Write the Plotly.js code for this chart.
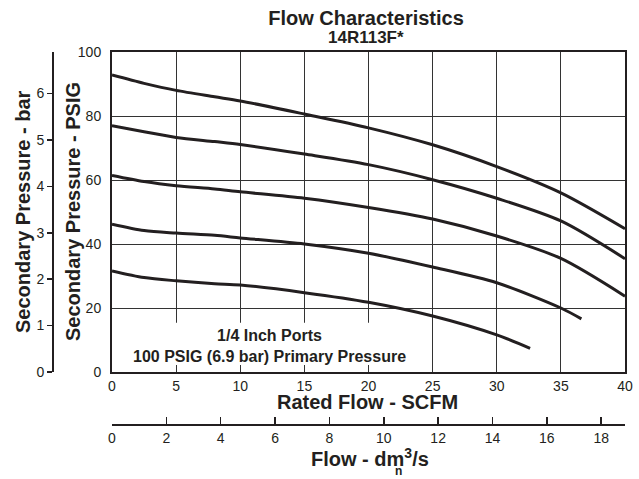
<!DOCTYPE html>
<html><head><meta charset="utf-8">
<script src="https://cdn.plot.ly/plotly-3.0.1.min.js"></script>
<style>body{margin:0;background:#fff}#chart{width:639px;height:479px}</style>
</head><body><div id="chart"></div>
<script>
// ---- data ----
const flowABC = [0, 2.5, 5, 8, 10, 15, 20, 25, 30, 35, 40];
const curveA  = [92.8, 90.2, 88.0, 86.0, 84.7, 80.6, 76.3, 71.0, 64.2, 56.0, 44.8];
const curveB  = [77.0, 75.1, 73.3, 72.0, 71.1, 68.1, 64.8, 60.1, 54.3, 47.2, 35.4];
const curveC  = [61.4, 59.5, 58.2, 57.2, 56.3, 54.3, 51.4, 47.8, 42.5, 35.5, 23.7];
const flowD   = [0, 2.5, 5, 8, 10, 15, 20, 25, 30, 35, 36.6];
const curveD  = [46.2, 44.2, 43.4, 42.7, 41.9, 40.0, 37.1, 32.8, 27.9, 20.0, 16.6];
const flowE   = [0, 2.5, 5, 8, 10, 15, 20, 25, 30, 32.6];
const curveE  = [31.6, 29.5, 28.5, 27.6, 27.2, 24.8, 21.8, 17.5, 11.6, 7.4];

const scfmTicks = [0, 5, 10, 15, 20, 25, 30, 35, 40];
const psigTicks = [0, 20, 40, 60, 80, 100];
const barTicks  = [0, 1, 2, 3, 4, 5, 6];
const dm3Ticks  = [0, 2, 4, 6, 8, 10, 12, 14, 16, 18];
const SCFM_TO_DM3S = 0.4719;
const PSI_TO_BAR = 0.0689476;

// ---- layout helpers (pixel -> paper) ----
const W = 639, H = 479, ML = 0, MR = 14, MT = 52, MB = 10;
const PW = W - ML - MR, PH = H - MT - MB;
const px = v => (v - ML) / PW;
const py = v => (H - MB - v) / PH;

const INK = '#231f20';
const GRID = '#333';
const FONT = 'Liberation Sans, Arial, Helvetica, sans-serif';
const lineStyle = {color: INK, width: 3, shape: 'spline', smoothing: 0.8};

const series = [[flowABC, curveA], [flowABC, curveB], [flowABC, curveC], [flowD, curveD], [flowE, curveE]];
const traces = series.map(([x, y]) => ({
  type: 'scatter', mode: 'lines', x: x, y: y, line: lineStyle, hoverinfo: 'skip'
}));
traces.push({type: 'scatter', mode: 'lines', x: [], y: [], xaxis: 'x2', yaxis: 'y2', hoverinfo: 'skip'});

const layout = {
  width: W, height: H,
  margin: {l: ML, r: MR, t: MT, b: MB},
  paper_bgcolor: '#fff', plot_bgcolor: '#fff',
  showlegend: false,
  font: {family: FONT, color: INK, size: 14},
  title: {
    text: '<b>Flow Characteristics</b>',
    font: {family: FONT, size: 20, color: INK},
    xref: 'container', x: 366 / W, xanchor: 'center',
    yref: 'container', y: 1 - 17.5 / H, yanchor: 'middle'
  },
  xaxis: {
    domain: [px(112), 1], range: [0, 40], tickvals: scfmTicks, ticks: '',
    showgrid: true, gridcolor: GRID, gridwidth: 1, zeroline: false,
    showline: true, linecolor: INK, linewidth: 2, mirror: true,
    tickfont: {size: 14, color: INK}, fixedrange: true
  },
  yaxis: {
    domain: [py(372), 1], range: [0, 100], tickvals: psigTicks, ticks: '',
    showgrid: true, gridcolor: GRID, gridwidth: 1, zeroline: false,
    showline: true, linecolor: INK, linewidth: 2, mirror: true,
    tickfont: {size: 14, color: INK}, ticklabelstandoff: 6, fixedrange: true
  },
  xaxis2: {
    overlaying: 'x', anchor: 'free', position: py(425), side: 'bottom',
    range: [0, 40 * SCFM_TO_DM3S], tickvals: dm3Ticks, ticks: 'inside', ticklen: 7,
    tickcolor: INK, tickwidth: 1.5, showline: true, linecolor: INK, linewidth: 2,
    showgrid: false, zeroline: false, tickfont: {size: 14, color: INK}, fixedrange: true
  },
  yaxis2: {
    overlaying: 'y', anchor: 'free', position: px(53), side: 'left',
    range: [0, 100 * PSI_TO_BAR], tickvals: barTicks, ticks: 'outside', ticklen: 5,
    tickcolor: INK, tickwidth: 1.5, showline: true, linecolor: INK, linewidth: 2,
    showgrid: false, zeroline: false, tickfont: {size: 14, color: INK}, fixedrange: true
  },
  shapes: [{
    type: 'rect', xref: 'x', yref: 'y', x0: 0.2, x1: 22, y0: 2.2, y1: 15.4,
    fillcolor: '#fff', line: {width: 0}, layer: 'between'
  }],
  annotations: [
    {text: '<b>14R113F*</b>', xref: 'paper', yref: 'paper', x: px(366), y: py(38),
     xanchor: 'center', yanchor: 'middle', showarrow: false, font: {size: 17}},
    {text: '<b>Secondary Pressure - PSIG</b>', xref: 'paper', yref: 'paper', x: px(73), y: py(212),
     xanchor: 'center', yanchor: 'middle', textangle: -90, showarrow: false, font: {size: 20}},
    {text: '<b>Secondary Pressure - bar</b>', xref: 'paper', yref: 'paper', x: px(23), y: py(212),
     xanchor: 'center', yanchor: 'middle', textangle: -90, showarrow: false, font: {size: 20}},
    {text: '<b>Rated Flow - SCFM</b>', xref: 'paper', yref: 'paper', x: px(367), y: py(402),
     xanchor: 'center', yanchor: 'middle', showarrow: false, font: {size: 20}},
    {text: '<b>Flow - dm<sup>3</sup>/s</b>', xref: 'paper', yref: 'paper', x: px(370), y: py(457),
     xanchor: 'center', yanchor: 'middle', showarrow: false, font: {size: 20}},
    {text: '<b>n</b>', xref: 'paper', yref: 'paper', x: px(398), y: py(471),
     xanchor: 'center', yanchor: 'middle', showarrow: false, font: {size: 12}},
    {text: '<b>1/4 Inch Ports<br>100 PSIG (6.9 bar) Primary Pressure</b>', xref: 'paper', yref: 'paper',
     x: px(269), y: py(346), xanchor: 'center', yanchor: 'middle', showarrow: false,
     font: {size: 16}, align: 'center'}
  ]
};

Plotly.newPlot('chart', traces, layout, {staticPlot: true, displayModeBar: false});
</script>
</body></html>
